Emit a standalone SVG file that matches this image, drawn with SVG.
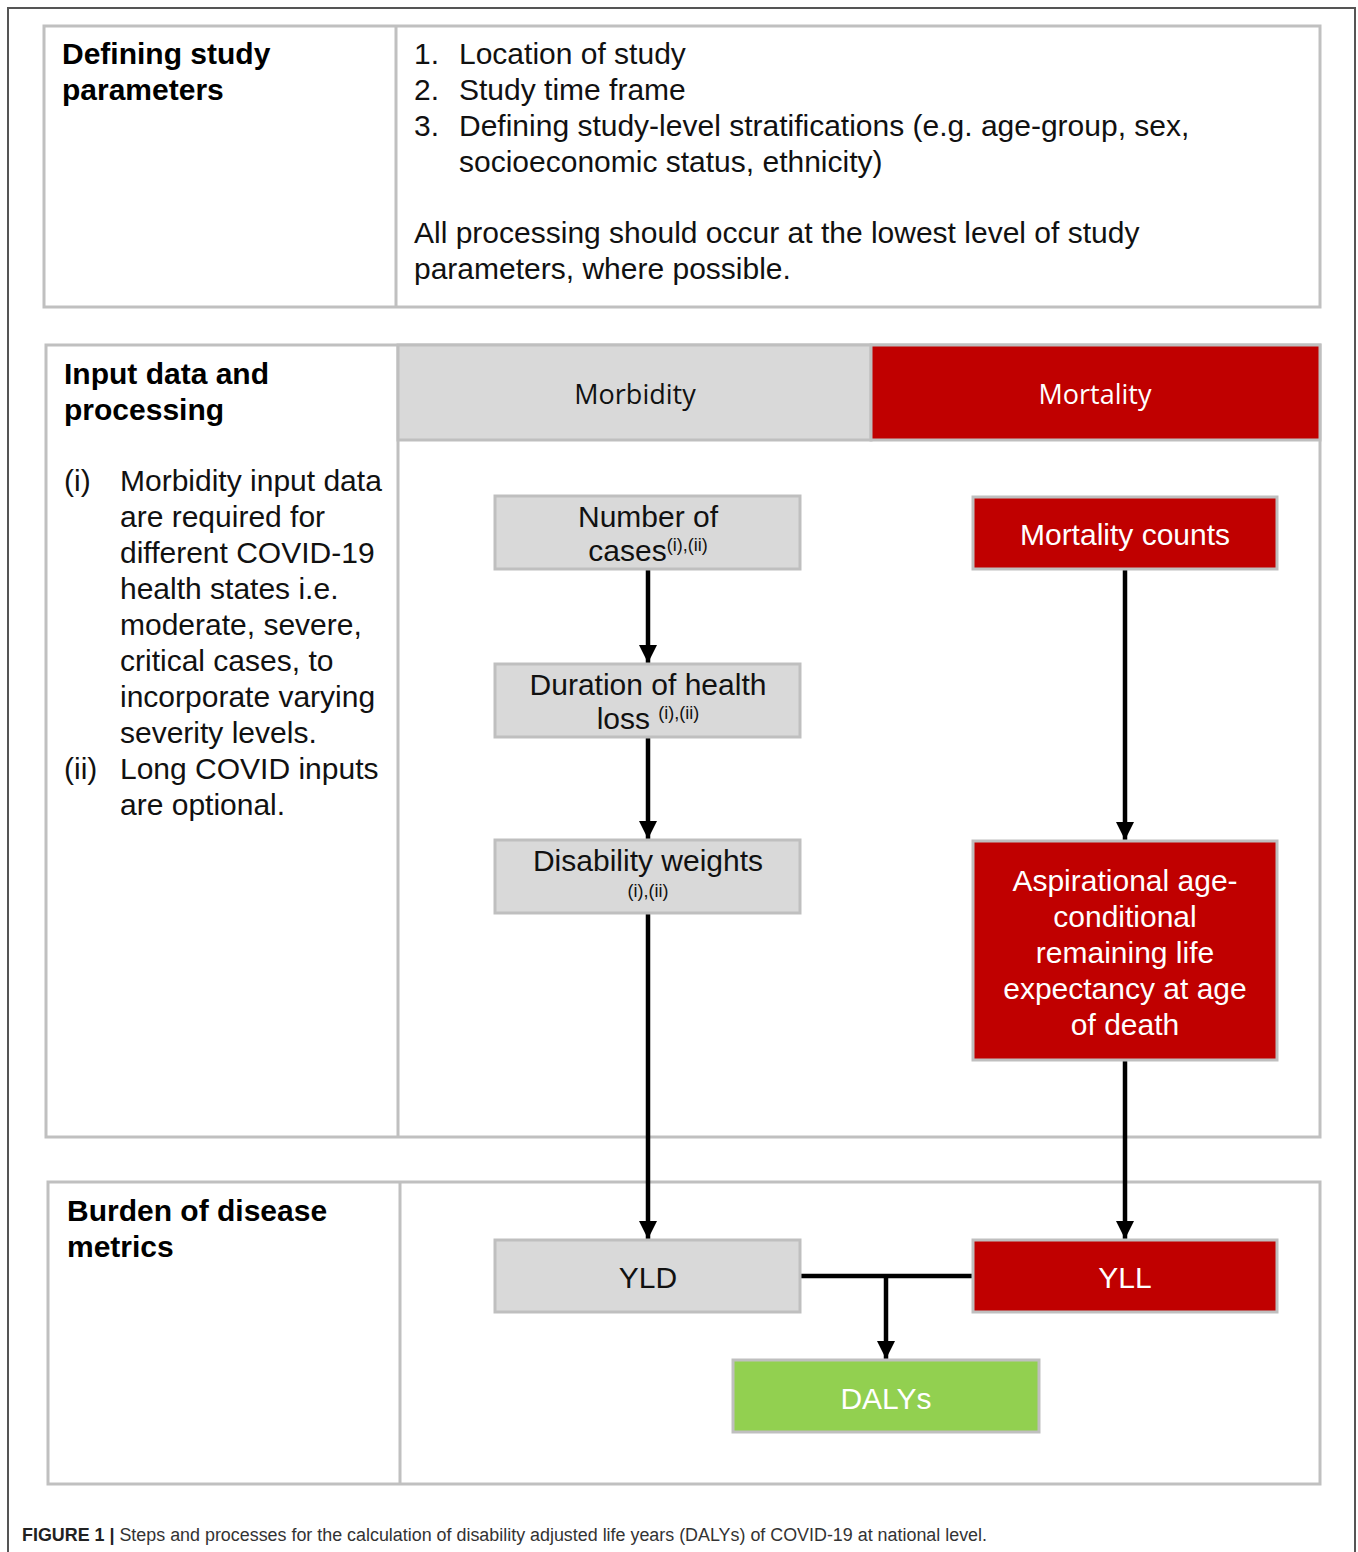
<svg xmlns="http://www.w3.org/2000/svg" width="1358" height="1552" viewBox="0 0 1358 1552">
<style>
.panel{fill:#fff;stroke:#c0c0c0;stroke-width:3}
.div{stroke:#c0c0c0;stroke-width:3}
.gray{fill:#d9d9d9;stroke:#bfbfbf;stroke-width:3}
.red{fill:#c00000;stroke:#bfbfbf;stroke-width:3}
.green{fill:#92d050;stroke:#bfbfbf;stroke-width:3}
.title{font-family:"Liberation Sans",Arial,sans-serif;font-weight:bold;font-size:30px;fill:#000}
.body{font-family:"Liberation Sans",Arial,sans-serif;font-size:30px;fill:#111}
.hdr{font-family:"Open Sans","Noto Sans",sans-serif;font-size:27px;text-anchor:middle}
.nt{font-family:"Liberation Sans",Arial,sans-serif;font-size:30px;text-anchor:middle;fill:#111}
.wt{font-family:"Liberation Sans",Arial,sans-serif;font-size:30px;text-anchor:middle;fill:#fff}
.sup{font-size:18px}
.conn{stroke:#000;stroke-width:4.5;fill:none}
</style>
<defs>
<marker id="ahd" markerUnits="userSpaceOnUse" markerWidth="18" markerHeight="18" viewBox="0 0 18 18" refX="18" refY="9" orient="auto">
<path d="M0,0 L18,9 L0,18 Z" fill="#000"/>
</marker>
</defs>
<rect width="1358" height="1552" fill="#fff"/>
<path d="M8,1552 L8,8 L1355,8 L1355,1552" fill="none" stroke="#555" stroke-width="2"/>

<g id="panel-study">
<rect class="panel" x="44" y="26" width="1276" height="281"/>
<line class="div" x1="396" y1="26" x2="396" y2="307"/>
<text class="title" x="62" y="64">Defining study</text>
<text class="title" x="62" y="100">parameters</text>
<g class="body">
<text x="414" y="64">1.</text><text x="459" y="64">Location of study</text>
<text x="414" y="100">2.</text><text x="459" y="100">Study time frame</text>
<text x="414" y="136">3.</text><text x="459" y="136">Defining study-level stratifications (e.g. age-group, sex,</text>
<text x="459" y="172">socioeconomic status, ethnicity)</text>
<text x="414" y="243">All processing should occur at the lowest level of study</text>
<text x="414" y="279">parameters, where possible.</text>
</g>
</g>

<g id="panel-input">
<rect class="panel" x="46" y="345" width="1274" height="792"/>
<line class="div" x1="398" y1="345" x2="398" y2="1137"/>
<text class="title" x="64" y="384">Input data and</text>
<text class="title" x="64" y="420">processing</text>
<g class="body">
<text x="64" y="491">(i)</text>
<text x="120" y="491">Morbidity input data</text>
<text x="120" y="527">are required for</text>
<text x="120" y="563">different COVID-19</text>
<text x="120" y="599">health states i.e.</text>
<text x="120" y="635">moderate, severe,</text>
<text x="120" y="671">critical cases, to</text>
<text x="120" y="707">incorporate varying</text>
<text x="120" y="743">severity levels.</text>
<text x="64" y="779">(ii)</text>
<text x="120" y="779">Long COVID inputs</text>
<text x="120" y="815">are optional.</text>
</g>
</g>

<g id="hdr-morbidity">
<rect class="gray" x="398" y="345" width="473" height="95"/>
<text class="hdr" x="635" y="404" fill="#111">Morbidity</text>
</g>
<g id="hdr-mortality">
<rect x="871" y="345" width="449" height="95" fill="#c00000" stroke="#bfbfbf" stroke-width="3"/>
<text class="hdr" x="1095" y="404" fill="#fff">Mortality</text>
</g>

<g id="panel-burden">
<rect class="panel" x="48" y="1182" width="1272" height="302"/>
<line class="div" x1="400" y1="1182" x2="400" y2="1484"/>
<text class="title" x="67" y="1221">Burden of disease</text>
<text class="title" x="67" y="1257">metrics</text>
</g>

<g id="connectors">
<line class="conn" x1="648" y1="570" x2="648" y2="663" marker-end="url(#ahd)"/>
<line class="conn" x1="648" y1="738" x2="648" y2="839" marker-end="url(#ahd)"/>
<line class="conn" x1="648" y1="914" x2="648" y2="1239" marker-end="url(#ahd)"/>
<line class="conn" x1="1125" y1="570" x2="1125" y2="840" marker-end="url(#ahd)"/>
<line class="conn" x1="1125" y1="1061" x2="1125" y2="1239" marker-end="url(#ahd)"/>
<line class="conn" x1="800" y1="1276" x2="973" y2="1276"/>
<line class="conn" x1="886" y1="1276" x2="886" y2="1359" marker-end="url(#ahd)"/>
</g>

<g id="node-cases">
<rect class="gray" x="495" y="496" width="305" height="73"/>
<text class="nt" x="648" y="527">Number of</text>
<text class="nt" x="648" y="561">cases<tspan class="sup" dy="-10">(i),(ii)</tspan></text>
</g>
<g id="node-duration">
<rect class="gray" x="495" y="664" width="305" height="73"/>
<text class="nt" x="648" y="695">Duration of health</text>
<text class="nt" x="648" y="729">loss <tspan class="sup" dy="-10">(i),(ii)</tspan></text>
</g>
<g id="node-dw">
<rect class="gray" x="495" y="840" width="305" height="73"/>
<text class="nt" x="648" y="871">Disability weights</text>
<text class="nt" x="648" y="897" style="font-size:18px">(i),(ii)</text>
</g>
<g id="node-mortcounts">
<rect class="red" x="973" y="497" width="304" height="72"/>
<text class="wt" x="1125" y="545">Mortality counts</text>
</g>
<g id="node-aspirational">
<rect class="red" x="973" y="841" width="304" height="219"/>
<text class="wt" x="1125" y="891">Aspirational age-</text>
<text class="wt" x="1125" y="927">conditional</text>
<text class="wt" x="1125" y="963">remaining life</text>
<text class="wt" x="1125" y="999">expectancy at age</text>
<text class="wt" x="1125" y="1035">of death</text>
</g>
<g id="node-yld">
<rect class="gray" x="495" y="1240" width="305" height="72"/>
<text class="nt" x="648" y="1288">YLD</text>
</g>
<g id="node-yll">
<rect class="red" x="973" y="1240" width="304" height="72"/>
<text class="wt" x="1125" y="1288">YLL</text>
</g>
<g id="node-dalys">
<rect class="green" x="733" y="1360" width="306" height="72"/>
<text class="wt" x="886" y="1409">DALYs</text>
</g>

<text x="22" y="1541" font-family="'Liberation Sans',Arial,sans-serif" font-size="18" fill="#333" textLength="965" lengthAdjust="spacingAndGlyphs"><tspan font-weight="bold" fill="#222">FIGURE 1 |</tspan> Steps and processes for the calculation of disability adjusted life years (DALYs) of COVID-19 at national level.</text>
</svg>
